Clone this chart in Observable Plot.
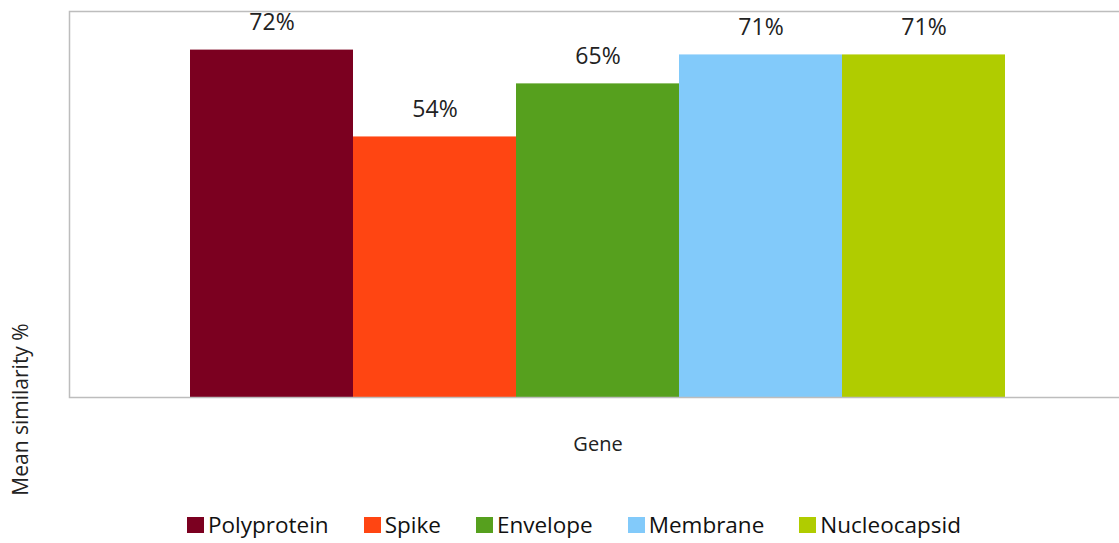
<!DOCTYPE html>
<html>
<head>
<meta charset="utf-8">
<script src="https://cdn.jsdelivr.net/npm/d3@7"></script>
<script src="https://cdn.jsdelivr.net/npm/@observablehq/plot@0.6"></script>
<style>
  html, body { margin: 0; padding: 0; background: #fff; overflow: hidden; }
  #wrap { position: relative; width: 1119px; height: 543px; overflow: hidden; font-family: "Open Sans", sans-serif; }
  #wrap svg { max-width: none !important; display: block; }
  #legend { position: absolute; left: 187px; top: 513px; height: 24px; line-height: 24px; display: flex; align-items: center; font-size: 22.5px; color: #111; white-space: nowrap; }
  .item { display: flex; align-items: center; margin-right: 35px; height: 24px; }
  .sw { width: 17px; height: 16px; margin-right: 4px; display: inline-block; }
</style>
</head>
<body>
<div id="wrap"></div>
<script>
const genes = ["Polyprotein", "Spike", "Envelope", "Membrane", "Nucleocapsid"];
const similarity = [72, 54, 65, 71, 71];
const colors = ["#7B0020", "#FF4512", "#56A01E", "#82CAFA", "#B0CC00"];
const yLabel = "Mean similarity %";
const xLabel = "Gene";

const data = genes.map((g, i) => ({gene: g, value: similarity[i]}));

const chart = Plot.plot({
  width: 1126,
  height: 500,
  marginLeft: 69,
  marginRight: 0,
  marginTop: 11,
  marginBottom: 103,
  style: {fontFamily: "Open Sans, sans-serif", background: "#fff", maxWidth: "none"},
  x: {domain: genes, padding: 0, insetLeft: 121, insetRight: 121, axis: null},
  y: {domain: [0, 80], axis: null},
  color: {domain: genes, range: colors},
  marks: [
    Plot.barY(data, {x: "gene", y: "value", fill: "gene"}),
    Plot.text(data, {x: "gene", y: "value", text: d => d.value + "%", dy: -27, fontSize: 23, fill: "#222"}),
    Plot.frame({stroke: "#bdbdbd", strokeWidth: 1.5}),
    Plot.text([xLabel], {frameAnchor: "bottom", dy: 53, fontSize: 20, fill: "#222"}),
    Plot.text([yLabel], {frameAnchor: "left", textAnchor: "middle", dx: -48, dy: 205, rotate: -90, fontSize: 21, fill: "#222"})
  ]
});
const wrap = document.getElementById("wrap");
wrap.appendChild(chart);

const legend = document.createElement("div");
legend.id = "legend";
genes.forEach((g, i) => {
  const it = document.createElement("div");
  it.className = "item";
  const sw = document.createElement("span");
  sw.className = "sw";
  sw.style.background = colors[i];
  const t = document.createElement("span");
  t.textContent = g;
  it.appendChild(sw);
  it.appendChild(t);
  legend.appendChild(it);
});
wrap.appendChild(legend);
</script>
</body>
</html>
